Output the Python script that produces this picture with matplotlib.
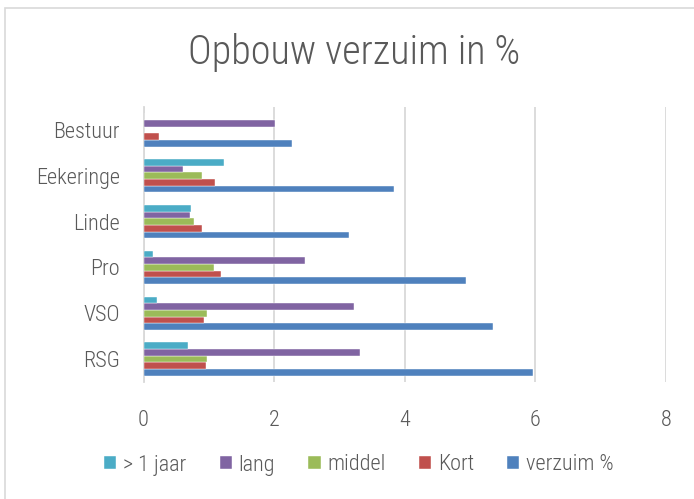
import matplotlib
matplotlib.use("Agg")
import matplotlib.pyplot as plt
from matplotlib.patches import Rectangle
import numpy as np

plt.rcParams['font.family'] = ['Roboto Condensed', 'DejaVu Sans']

# data
categories = ['RSG', 'VSO', 'Pro', 'Linde', 'Eekeringe', 'Bestuur']
verzuim = [5.97, 5.35, 4.94, 3.14, 3.84, 2.27]
kort = [0.96, 0.93, 1.19, 0.89, 1.10, 0.23]
middel = [0.97, 0.97, 1.08, 0.78, 0.89, 0]
lang = [3.32, 3.22, 2.48, 0.71, 0.60, 2.02]
jaar = [0.68, 0.20, 0.15, 0.72, 1.23, 0]

series = [('verzuim %', verzuim, '#4F81BD'),
          ('Kort', kort, '#C0504D'),
          ('middel', middel, '#9BBB59'),
          ('lang', lang, '#8064A2'),
          ('> 1 jaar', jaar, '#4BACC6')]

fig = plt.figure(figsize=(6.94, 4.99), dpi=100)
ax = fig.add_axes([143.5/694, 1-382/499, (666-143.5)/694, 275/499])

y = np.arange(len(categories))
h = 0.145
handles = {}
for i, (name, vals, col) in enumerate(series):
    b = ax.barh(y + (i - 2) * h, vals, height=h, color=col, zorder=3, label=name,
                edgecolor='white', linewidth=0.3)
    handles[name] = b

ax.set_xlim(0, 8)
ax.set_ylim(-0.5, len(categories) - 0.5)
ax.set_xticks([0, 2, 4, 6, 8])
ax.set_yticks(y)
ax.set_yticklabels(categories)
ax.grid(axis='x', color='#D9D9D9', linewidth=1.3, zorder=0)
for s in ['top', 'right', 'bottom']:
    ax.spines[s].set_visible(False)
ax.spines['left'].set_color('#D9D9D9')
ax.spines['left'].set_linewidth(1.3)
ax.tick_params(length=0, labelsize=16, labelcolor='#595959')
for lbl in ax.get_xticklabels() + ax.get_yticklabels():
    lbl.set_fontweight('light')
ax.tick_params(axis='y', pad=17)
ax.tick_params(axis='x', pad=20)

fig.text((354)/694, 1 - 52/499, 'Opbouw verzuim in %', ha='center', va='center',
         fontsize=29, color='#595959', fontweight='light')

order = ['> 1 jaar', 'lang', 'middel', 'Kort', 'verzuim %']
leg = fig.legend([handles[n] for n in order], order, loc='center', ncol=5,
                 bbox_to_anchor=(0.5 + 12/694, 1 - 465/499), frameon=False,
                 prop={'size': 16, 'weight': 'light'},
                 labelcolor='#595959', handlelength=0.55, handleheight=0.55,
                 handletextpad=0.3, columnspacing=1.5)

fig.patches.append(Rectangle((5/694, -0.01), 1.0, 1 - 8/499 + 0.01,
                             transform=fig.transFigure, fill=False,
                             edgecolor='#D9D9D9', linewidth=1.2))

fig.savefig('out.png', dpi=100)
